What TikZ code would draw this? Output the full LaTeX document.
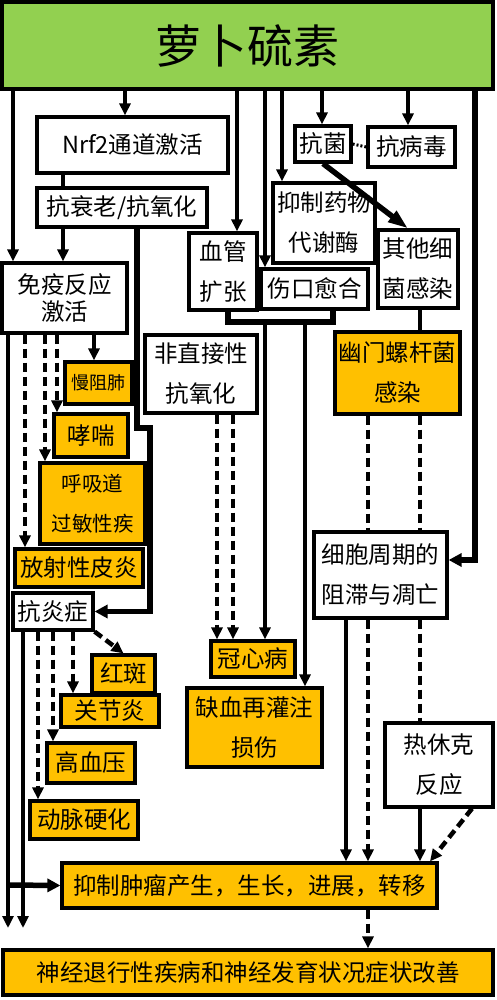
\documentclass[tikz,border=0pt]{standalone}
\usepackage{fontspec}
\newfontfamily\cjk{Noto Sans CJK SC}
\usetikzlibrary{arrows.meta,backgrounds}
\definecolor{gr}{HTML}{92D050}
\definecolor{og}{HTML}{FFC000}
\newcommand\mybox[7]{\node[#6, minimum width={#4-#2}, minimum height={#5-#3}] (#1) at ({(#2+#4)/2},{(#3+#5)/2}) {#7};}
\begin{document}
\begin{tikzpicture}[x=1pt,y=-1pt,
 box/.style={draw=black, line width=3.2pt, fill=white, inner sep=0pt, align=center, font=\cjk\fontsize{23.5}{40}\selectfont},
 obox/.style={box, fill=og},
 ln/.style={line width=3.8pt},
 arr/.style={line width=3.8pt, -{Triangle[width=11pt,length=12pt]}},
 tk/.style={line width=5.5pt},
 tkarr/.style={line width=5.5pt, -{Triangle[width=13pt,length=13pt]}},
 dsh/.style={line width=4.5pt, dash pattern=on 9pt off 5pt},
 darr/.style={dsh, -{Triangle[width=11pt,length=12pt]}}
]
\useasboundingbox (0,0) rectangle (496,1000);
\fill[white] (0,0) rectangle (496,1000);

% nodes
\mybox{top}{2}{2}{493}{89}{box, fill=gr, font=\cjk\fontsize{46}{50}\selectfont}{萝卜硫素}
\mybox{nrf}{37}{117}{228}{173}{box}{Nrf2通道激活}
\mybox{ksl}{37}{188}{207}{227}{box}{抗衰老/抗氧化}
\mybox{imm}{2}{263}{127}{333}{box, font=\cjk\fontsize{23.5}{27}\selectfont}{免疫反应\\激活}
\mybox{mz}{65}{362}{132}{404}{obox, font=\cjk\fontsize{18}{20}\selectfont}{慢阻肺}
\mybox{xc}{54}{414}{128}{457}{obox}{哮喘}
\mybox{hx}{40}{463}{145}{544}{obox, font=\cjk\fontsize{20.5}{40}\selectfont}{呼吸道\\过敏性疾}
\mybox{fs}{15}{549}{143}{587}{obox}{放射性皮炎}
\mybox{kyz}{13}{593}{93}{630}{box}{抗炎症}
\mybox{hb}{92}{655}{155}{693}{obox}{红斑}
\mybox{gj}{61}{695}{159}{727}{obox}{关节炎}
\mybox{gxy}{47}{743}{135}{783}{obox}{高血压}
\mybox{dm}{30}{801}{138}{839}{obox}{动脉硬化}
\mybox{xg}{189}{233}{257}{310}{box}{血管\\扩张}
\mybox{fzj}{145}{335}{257}{413}{box}{非直接性\\抗氧化}
\mybox{gxb}{211}{641}{295}{677}{obox}{冠心病}
\mybox{qx}{187}{688}{322}{767}{obox}{缺血再灌注\\损伤}
\mybox{kj}{295}{126}{351}{162}{box}{抗菌}
\mybox{kb}{368}{127}{455}{167}{box}{抗病毒}
\mybox{yz}{273}{183}{375}{263}{box}{抑制药物\\代谢酶}
\mybox{sk}{261}{269}{368}{309}{box}{伤口愈合}
\mybox{qt}{378}{230}{458}{308}{box}{其他细\\菌感染}
\mybox{ym}{335}{332}{460}{414}{obox}{幽门螺杆菌\\感染}
\mybox{xb}{314}{532}{447}{618}{box}{细胞周期的\\阻滞与凋亡}
\mybox{rx}{385}{723}{493}{807}{box}{热休克\\反应}
\mybox{yzl}{62}{863}{437}{908}{obox}{抑制肿瘤产生，生长，进展，转移}
\mybox{ns}{3}{950}{493}{995}{obox}{神经退行性疾病和神经发育状况症状改善}

\coordinate (e1) at (8,928);
\coordinate (e2) at (23,928);
\coordinate (h1) at (8,885);
\coordinate (j1) at (137,428);
\coordinate (j2) at (150,428);
\coordinate (br) at (280,322);

% lines passing behind boxes
\begin{pgfonlayer}{background}
\draw[arr] (top.south -| 487,0) -- (ns.north -| 487,0);
\draw[arr] (ksl.south -| 163,0) -- (ns.north -| 163,0);
\draw[arr] (ksl.south -| 178,0) -- (yzl.north -| 178,0);
\end{pgfonlayer}

% from top
\draw[arr] (top.south -| 13,0) -- (imm.north -| 13,0);
\draw[arr] (top.south -| 125,0) -- (nrf.north -| 125,0);
\draw[arr] (top.south -| 237,0) -- (xg.north -| 237,0);
\draw[arr] (top.south -| 265,0) -- (sk.north -| 265,0);
\draw[arr] (top.south -| 282,0) -- (yz.north -| 282,0);
\draw[arr] (top.south -| 322,0) -- (kj.north -| 322,0);
\draw[arr] (top.south -| 408,0) -- (kb.north -| 408,0);
\draw[tkarr] (top.south -| 475,0) |- (xb.east |- 0,560);

% Nrf2 chain
\draw[ln] (nrf.south -| 63,0) -- (ksl.north -| 63,0);
\draw[arr] (ksl.south -| 63,0) -- (imm.north -| 63,0);
\draw[tkarr] (ksl.south -| 137,0) -- (j1) -- (j2) |- (kyz.east);

% immune
\draw[darr] (imm.south -| 25,0) -- (fs.north -| 25,0);
\draw[darr] (imm.south -| 45,0) -- (hx.north -| 45,0);
\draw[darr] (imm.south -| 57,0) -- (xc.north -| 57,0);
\draw[arr] (imm.south -| 94,0) -- (mz.north -| 94,0);
\draw[arr] (imm.south -| 8,0) -- (e1);
\draw[tkarr] (h1) -- (yzl.west);
\draw[arr] (kyz.south -| 23,0) -- (e2);

% anti-inflammation
\draw[darr] (kyz.south east) -- (hb.north);
\draw[darr] (kyz.south -| 73,0) -- (gj.north -| 73,0);
\draw[darr] (kyz.south -| 53,0) -- (gxy.north -| 53,0);
\draw[darr] (kyz.south -| 38,0) -- (dm.north -| 38,0);

% vessel / wound
\draw[tk] (xg.south -| 228,0) |- (br) -| (sk.south -| 333,0);
\draw[arr] (br -| 265,0) -- (gxb.north -| 265,0);
\draw[arr] (br -| 305,0) -- (qx.north -| 305,0);
\draw[darr] (fzj.south -| 217,0) -- (gxb.north -| 217,0);
\draw[darr] (fzj.south -| 233,0) -- (gxb.north -| 233,0);

% antibacterial
\draw[line width=3pt, dash pattern=on 2pt off 2pt] (kj.east) -- (kb.west);
\draw[line width=5.5pt, -{Triangle[width=13pt,length=20pt]}] (kj.south) -- ([xshift=-10pt]qt.north);
\draw[line width=4.5pt] (qt.south -| 420,0) -- (ym.north -| 420,0);
\draw[dsh] (ym.south -| 368,0) -- (xb.north -| 368,0);
\draw[dsh] (ym.south -| 420,0) -- (xb.north -| 420,0);
\draw[darr] (xb.south -| 368,0) -- (yzl.north -| 368,0);
\draw[darr] (yzl.south -| 368,0) -- (ns.north -| 368,0);
\draw[dsh] (xb.south -| 420,0) -- (rx.north -| 420,0);
\draw[arr] (xb.south -| 346,0) -- (yzl.north -| 346,0);
\draw[arr] (rx.south -| 420,0) -- (yzl.north -| 420,0);
\draw[darr] (rx.south -| 472,0) -- (yzl.north -| 430,0);
\end{tikzpicture}
\end{document}
